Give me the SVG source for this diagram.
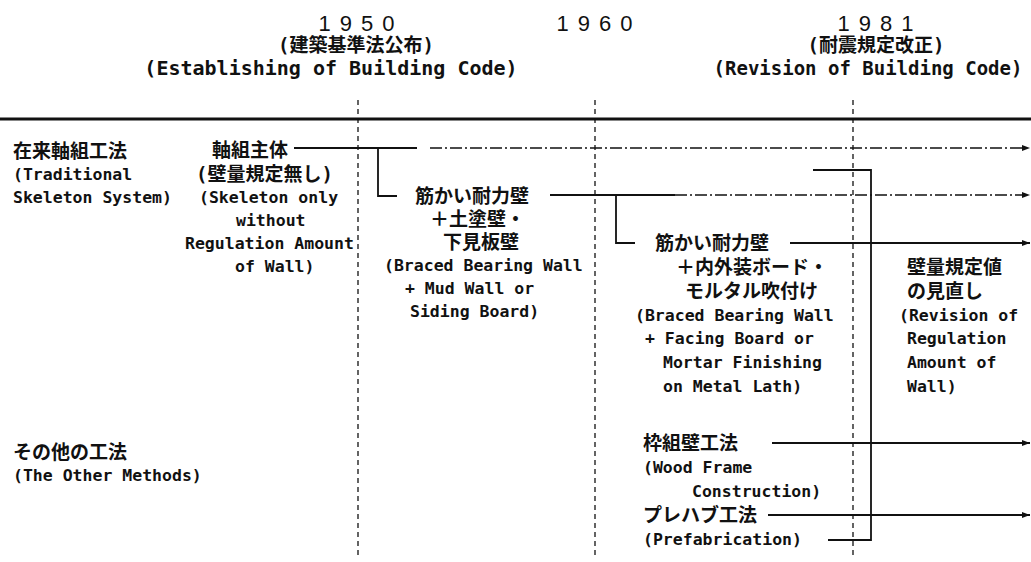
<svg xmlns="http://www.w3.org/2000/svg" width="1031" height="562" viewBox="0 0 1031 562">
<style>
text{font-family:"DejaVu Sans Mono","Noto Sans CJK JP",monospace;font-weight:bold;fill:#111;dominant-baseline:central}
.l{font-size:16.5px}
.j{font-size:19px}
.y{font-family:"Liberation Sans",sans-serif;font-weight:normal;font-size:22px;letter-spacing:9px}
.c{text-anchor:middle}
.s{fill:none;stroke:#111;stroke-width:1.8}
.dd{fill:none;stroke:#111;stroke-width:1.5;stroke-dasharray:12 3 2 3}
.v{fill:none;stroke:#111;stroke-width:1.3;stroke-dasharray:5 4}
</style>
<defs>
<marker id="ah" markerUnits="userSpaceOnUse" markerWidth="9" markerHeight="7" refX="8" refY="3.5" orient="auto">
<path d="M0,0.5 L8,3.5 L0,6.5 z" fill="#111"/>
</marker>
</defs>
<rect width="1031" height="562" fill="#fff"/>

<g id="header">
<g id="y1950">
<text class="y c" x="361" y="23">1950</text>
<text class="j c" x="356" y="45">(建築基準法公布)</text>
<text class="c" x="331" y="68" style="font-size:20px">(Establishing of Building Code)</text>
</g>
<g id="y1960">
<text class="y c" x="599" y="23">1960</text>
</g>
<g id="y1981">
<text class="y c" x="880" y="23">1981</text>
<text class="j c" x="876" y="45">(耐震規定改正)</text>
<text class="c" x="868" y="68" style="font-size:19px">(Revision of Building Code)</text>
</g>
</g>

<g id="axes">
<line x1="0" y1="119" x2="1031" y2="119" stroke="#111" stroke-width="3"/>
<line class="v" x1="358" y1="100" x2="358" y2="558"/>
<line class="v" x1="595" y1="100" x2="595" y2="558"/>
<line class="v" x1="853" y1="100" x2="853" y2="558"/>
</g>

<g id="cat-traditional">
<text class="j" x="13" y="151">在来軸組工法</text>
<text class="l" x="13" y="174">(Traditional</text>
<text class="l" x="13" y="197">Skeleton System)</text>
</g>

<g id="cat-other">
<text class="j" x="13" y="452">その他の工法</text>
<text class="l" x="13" y="475">(The Other Methods)</text>
</g>

<g id="n-skeleton">
<text class="j" x="212" y="150">軸組主体</text>
<text class="j" x="196" y="174">(壁量規定無し)</text>
<text class="l" x="199" y="197">(Skeleton only</text>
<text class="l" x="236" y="220">without</text>
<text class="l" x="185" y="243">Regulation Amount</text>
<text class="l" x="235" y="266">of Wall)</text>
</g>

<g id="n-braced1">
<text class="j" x="415" y="196">筋かい耐力壁</text>
<text class="j" x="430" y="219">＋土塗壁・</text>
<text class="j" x="443" y="242">下見板壁</text>
<text class="l" x="384" y="265">(Braced Bearing Wall</text>
<text class="l" x="405" y="288">+ Mud Wall or</text>
<text class="l" x="410" y="311">Siding Board)</text>
</g>

<g id="n-braced2">
<text class="j" x="655" y="243">筋かい耐力壁</text>
<text class="j" x="676" y="267">＋内外装ボード・</text>
<text class="j" x="685" y="291">モルタル吹付け</text>
<text class="l" x="635" y="315">(Braced Bearing Wall</text>
<text class="l" x="645" y="338">+ Facing Board or</text>
<text class="l" x="663" y="362">Mortar Finishing</text>
<text class="l" x="663" y="386">on Metal Lath)</text>
</g>

<g id="n-revision">
<text class="j" x="907" y="267">壁量規定値</text>
<text class="j" x="907" y="291">の見直し</text>
<text class="l" x="899" y="315">(Revision of</text>
<text class="l" x="907" y="338">Regulation</text>
<text class="l" x="907" y="362">Amount of</text>
<text class="l" x="907" y="386">Wall)</text>
</g>

<g id="n-woodframe">
<text class="j" x="643" y="443">枠組壁工法</text>
<text class="l" x="643" y="467">(Wood Frame</text>
<text class="l" x="692" y="491">Construction)</text>
</g>

<g id="n-prefab">
<text class="j" x="643" y="515">プレハブ工法</text>
<text class="l" x="643" y="539">(Prefabrication)</text>
</g>

<g id="connectors">
<path class="s" d="M294,148 H417"/>
<path class="dd" d="M430,148 H1030" marker-end="url(#ah)"/>
<path class="s" d="M378,148 V196 H397"/>
<path class="s" d="M550,195 H675"/>
<path class="dd" d="M675,195 H1030" marker-end="url(#ah)"/>
<path class="s" d="M616,195 V243 H635"/>
<path class="s" d="M790,243 H1030" marker-end="url(#ah)"/>
<path class="s" d="M813,170 H871 V540 H828"/>
<path class="s" d="M772,443 H1030" marker-end="url(#ah)"/>
<path class="s" d="M768,515 H1030" marker-end="url(#ah)"/>
</g>
</svg>
